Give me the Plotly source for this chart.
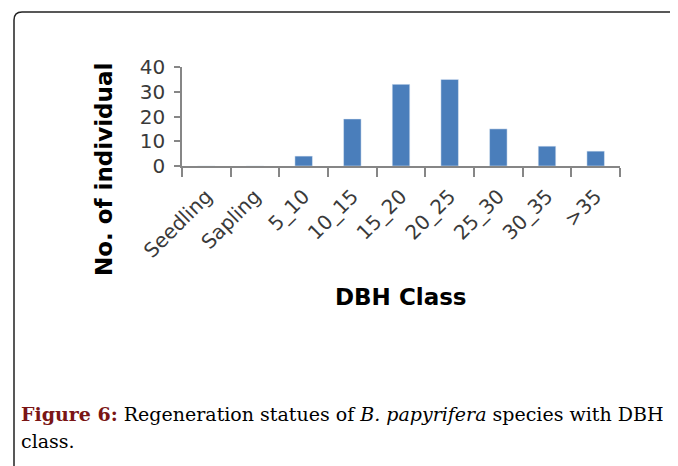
import plotly.graph_objects as go

categories = ["Seedling", "Sapling", "5_10", "10_15", "15_20", "20_25", "25_30", "30_35", ">35"]
individuals = [0, 0, 4, 19, 33, 35, 15, 8, 6]
y_ticks = [0, 10, 20, 30, 40]

# page offset (body margin) = 8px
OFF = 8
W, H = 670, 458
L, T = 182 - OFF, 67 - OFF
R = W - (620 - OFF)
B = H - (166 - OFF)
pw, ph = W - L - R, H - T - B


def px(x):
    """page pixel x -> paper"""
    return (x - OFF - L) / pw


def py(y):
    """page pixel y -> paper"""
    return (H - B - (y - OFF)) / ph


fig = go.Figure(
    go.Bar(x=categories, y=individuals, marker_color="#4a7ebb", width=0.36)
)

fig.update_layout(
    width=W,
    height=H,
    margin=dict(l=L, r=R, t=T, b=B, autoexpand=False),
    paper_bgcolor="white",
    plot_bgcolor="white",
    showlegend=False,
    font=dict(family="DejaVu Sans", color="#3a3a3a"),
)

fig.update_xaxes(
    type="category",
    tickson="boundaries",
    ticks="outside",
    ticklen=9,
    tickcolor="#868686",
    tickwidth=1.5,
    showline=True,
    linecolor="#868686",
    linewidth=1.5,
    tickangle=-45,
    ticklabelstandoff=9,
    tickfont=dict(size=20, color="#3a3a3a"),
    showgrid=False,
)
fig.update_yaxes(
    range=[0, 40],
    tickvals=y_ticks,
    ticks="outside",
    ticklen=6,
    tickcolor="#868686",
    tickwidth=1.5,
    showline=True,
    linecolor="#868686",
    linewidth=1.5,
    showgrid=False,
    zeroline=False,
    ticklabelstandoff=5,
    tickfont=dict(size=20, color="#3a3a3a"),
)

fig.add_annotation(
    text="<b>No. of individual</b>", textangle=-90,
    xref="paper", yref="paper", x=px(104), y=py(170),
    xanchor="center", yanchor="middle", showarrow=False,
    font=dict(family="DejaVu Sans", size=23, color="black"),
)
fig.add_annotation(
    text="<b>DBH Class</b>",
    xref="paper", yref="paper", x=px(401), y=py(297),
    xanchor="center", yanchor="middle", showarrow=False,
    font=dict(family="DejaVu Sans", size=23, color="black"),
)
fig.add_annotation(
    text="<b><span style='color:#7a1515'>Figure 6:</span></b> Regeneration statues of <i>B. papyrifera</i> species with DBH",
    xref="paper", yref="paper", x=px(19), y=py(414),
    xanchor="left", yanchor="middle", align="left", showarrow=False,
    font=dict(family="DejaVu Serif", size=19, color="black"),
)
fig.add_annotation(
    text="class.",
    xref="paper", yref="paper", x=px(19), y=py(441),
    xanchor="left", yanchor="middle", align="left", showarrow=False,
    font=dict(family="DejaVu Serif", size=19, color="black"),
)

# page frame with rounded top-left corner
fig.add_shape(
    type="path",
    xref="paper", yref="paper",
    path=(f"M {px(14)},{py(490)} L {px(14)},{py(20)} "
          f"Q {px(14)},{py(12)} {px(22)},{py(12)} L {px(700)},{py(12)}"),
    line=dict(color="#222", width=1.5),
)

fig.write_html("out.html")
